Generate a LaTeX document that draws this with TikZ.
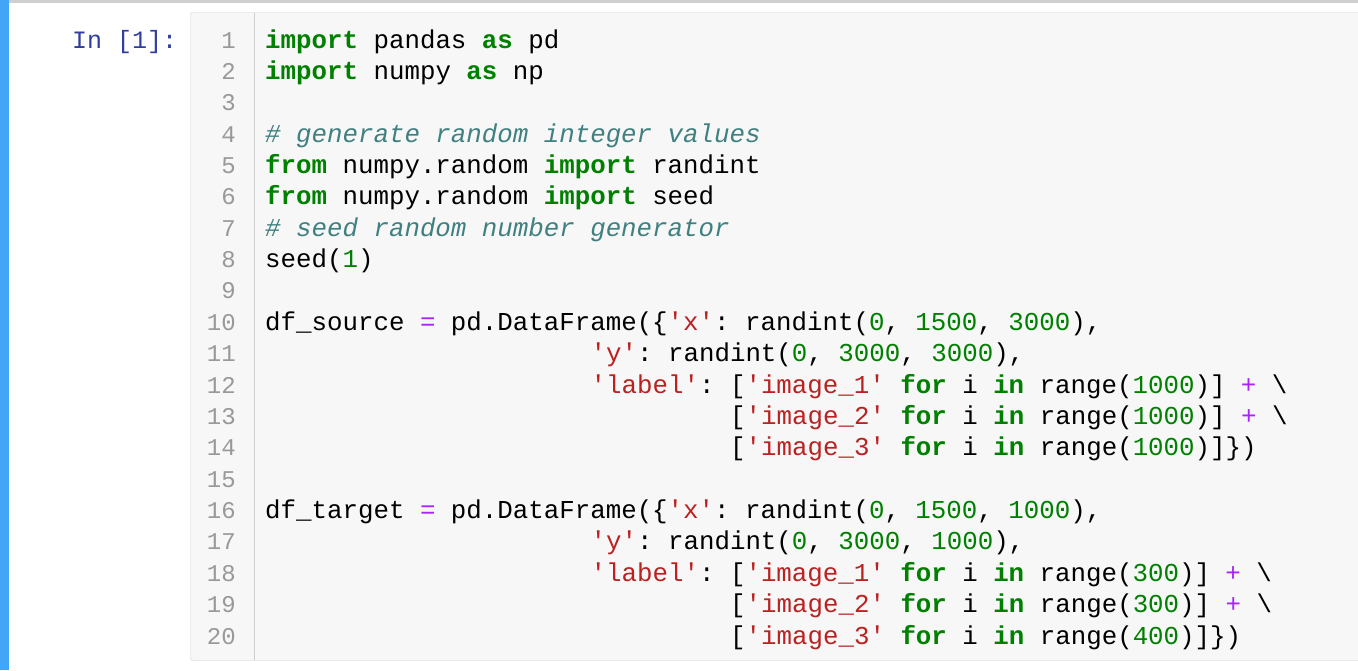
\documentclass[tikz,border=0pt]{standalone}
\usepackage{fontspec}
\setmonofont{Liberation Mono}
\definecolor{kwc}{RGB}{0,128,0}
\definecolor{cmc}{RGB}{64,128,128}
\definecolor{stc}{RGB}{186,33,33}
\definecolor{opc}{RGB}{170,34,255}
\definecolor{prc}{RGB}{48,63,159}
\definecolor{lnc}{RGB}{153,153,153}
\definecolor{boxbg}{RGB}{247,247,247}
\definecolor{boxbd}{RGB}{207,207,207}
\definecolor{barc}{RGB}{66,165,245}
\newcommand{\kw}[1]{\textcolor{kwc}{\bfseries #1}}
\newcommand{\cmt}[1]{\textcolor{cmc}{\itshape #1}}
\newcommand{\st}[1]{\textcolor{stc}{#1}}
\newcommand{\nm}[1]{\textcolor{kwc}{#1}}
\newcommand{\opr}[1]{\textcolor{opc}{#1}}
\tikzset{
  codeline/.style={anchor=base west, inner sep=0pt, font=\ttfamily\fontsize{25.8}{30}\selectfont},
  lnum/.style={anchor=base east, inner sep=0pt, text=lnc, font=\ttfamily\fontsize{24}{30}\selectfont},
  prompt/.style={anchor=base west, inner sep=0pt, text=prc, font=\ttfamily\fontsize{25}{30}\selectfont}
}
\begin{document}
\begin{tikzpicture}[x=1pt,y=-1pt]
\useasboundingbox (0,0) rectangle (1358,670);
\fill[white] (0,0) rectangle (1358,670);
\fill[barc] (0,0) rectangle (9,670);
\fill[boxbd] (9,0) rectangle (1358,3);
\draw[boxbd, fill=boxbg, rounded corners=2pt] (190.5,12.5) rectangle (1368,660.5);
\draw[boxbd] (254.5,13) -- (254.5,660);
\node[prompt] (pr) at (72,48) {In [1]:};
\foreach \i in {1,...,20} {
  \node[lnum] (n\i) at (236,{48+(\i-1)*31.37}) {\i};
}
\def\cx#1{265+#1*15.5}
\newcommand{\ly}[1]{48+(#1-1)*31.37}
\node[codeline] (l1) at (265,{\ly{1}}) {\kw{import} pandas \kw{as} pd};
\node[codeline] (l2) at (265,{\ly{2}}) {\kw{import} numpy \kw{as} np};
\node[codeline] (l4) at (265,{\ly{4}}) {\cmt{\# generate random integer values}};
\node[codeline] (l5) at (265,{\ly{5}}) {\kw{from} numpy.random \kw{import} randint};
\node[codeline] (l6) at (265,{\ly{6}}) {\kw{from} numpy.random \kw{import} seed};
\node[codeline] (l7) at (265,{\ly{7}}) {\cmt{\# seed random number generator}};
\node[codeline] (l8) at (265,{\ly{8}}) {seed(\nm{1})};
\node[codeline] (l10) at (265,{\ly{10}}) {df\_source \opr{=} pd.DataFrame(\{\st{'x'}: randint(\nm{0}, \nm{1500}, \nm{3000}),};
\node[codeline] (l11) at ({265+21*15.5},{\ly{11}}) {\st{'y'}: randint(\nm{0}, \nm{3000}, \nm{3000}),};
\node[codeline] (l12) at ({265+21*15.5},{\ly{12}}) {\st{'label'}: [\st{'image\_1'} \kw{for} i \kw{in} range(\nm{1000})] \opr{+} \textbackslash};
\node[codeline] (l13) at ({265+30*15.5},{\ly{13}}) {[\st{'image\_2'} \kw{for} i \kw{in} range(\nm{1000})] \opr{+} \textbackslash};
\node[codeline] (l14) at ({265+30*15.5},{\ly{14}}) {[\st{'image\_3'} \kw{for} i \kw{in} range(\nm{1000})]\})};
\node[codeline] (l16) at (265,{\ly{16}}) {df\_target \opr{=} pd.DataFrame(\{\st{'x'}: randint(\nm{0}, \nm{1500}, \nm{1000}),};
\node[codeline] (l17) at ({265+21*15.5},{\ly{17}}) {\st{'y'}: randint(\nm{0}, \nm{3000}, \nm{1000}),};
\node[codeline] (l18) at ({265+21*15.5},{\ly{18}}) {\st{'label'}: [\st{'image\_1'} \kw{for} i \kw{in} range(\nm{300})] \opr{+} \textbackslash};
\node[codeline] (l19) at ({265+30*15.5},{\ly{19}}) {[\st{'image\_2'} \kw{for} i \kw{in} range(\nm{300})] \opr{+} \textbackslash};
\node[codeline] (l20) at ({265+30*15.5},{\ly{20}}) {[\st{'image\_3'} \kw{for} i \kw{in} range(\nm{400})]\})};
\end{tikzpicture}
\end{document}
